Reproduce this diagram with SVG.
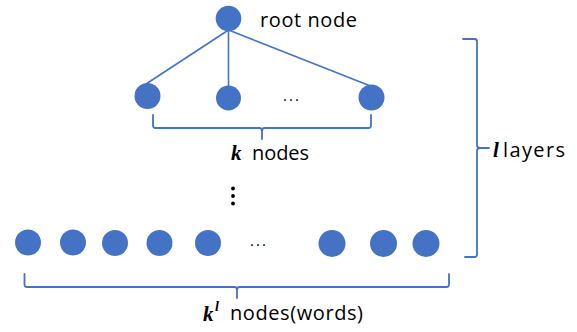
<svg xmlns="http://www.w3.org/2000/svg" width="577" height="332" viewBox="0 0 577 332">
<style>
.n{fill:#4472C4}
.c{stroke:#4472C4;stroke-width:1.6;fill:none}
.b{stroke:#4472C4;stroke-width:1.8;fill:none;stroke-linecap:round;stroke-linejoin:round}
.t{font-family:"Open Sans","Liberation Sans",sans-serif;font-size:20px;fill:#000}
.m{font-family:"Liberation Serif",serif;font-style:italic;font-weight:bold;font-size:21px;fill:#000}
.d{font-family:"Open Sans","Liberation Sans",sans-serif;font-size:15px;fill:#000}
</style>
<rect width="577" height="332" fill="#fff"/>
<g id="connectors">
<line class="c" x1="228.5" y1="30" x2="146" y2="84"/>
<line class="c" x1="228.5" y1="30" x2="228.5" y2="88"/>
<line class="c" x1="228.5" y1="30" x2="373" y2="87"/>
</g>
<g id="root"><circle class="n" cx="228.5" cy="18.5" r="12.8"/><text class="t" x="260" y="27" textLength="97" lengthAdjust="spacing">root node</text></g>
<g id="l1a"><circle class="n" cx="147.5" cy="96" r="13"/></g>
<g id="l1b"><circle class="n" cx="228.5" cy="98" r="12.5"/></g>
<g id="l1dots"><text class="d" x="283" y="101" textLength="16" lengthAdjust="spacing">...</text></g>
<g id="l1c"><circle class="n" cx="371.5" cy="97.5" r="13"/></g>
<g id="brace1"><path class="b" d="M153,115 V125.5 Q153,128 155.5,128 H259.5 Q262,128 262,131 V139 M262,131 Q262,128 264.5,128 H368.5 Q371,128 371,125.5 V115"/>
<text class="m" x="231" y="160">k</text><text class="t" x="252" y="160" textLength="57" lengthAdjust="spacing">nodes</text></g>
<g id="vdots"><circle cx="233" cy="188.5" r="1.9" fill="#000"/><circle cx="233" cy="196" r="1.9" fill="#000"/><circle cx="233" cy="203.5" r="1.9" fill="#000"/></g>
<g id="leaves">
<circle class="n" cx="28" cy="242.5" r="13"/>
<circle class="n" cx="73" cy="242.5" r="13"/>
<circle class="n" cx="115" cy="243" r="13"/>
<circle class="n" cx="159.5" cy="243" r="13"/>
<circle class="n" cx="208" cy="243" r="13"/>
<text class="d" x="250" y="246" textLength="16" lengthAdjust="spacing">...</text>
<circle class="n" cx="332" cy="243.5" r="13.5"/>
<circle class="n" cx="383.5" cy="243.5" r="13.5"/>
<circle class="n" cx="426" cy="243.5" r="13.5"/>
</g>
<g id="brace2"><path class="b" d="M24.5,274 V284.5 Q24.5,287 27,287 H234.5 Q237,287 237,290 V298 M237,290 Q237,287 239.5,287 H446.5 Q449,287 449,284.5 V274"/>
<text class="m" x="203" y="321">k</text><text class="m" x="215" y="311" style="font-size:14px">l</text><text class="t" x="230" y="320" textLength="133" lengthAdjust="spacing">nodes(words)</text></g>
<g id="brace3"><path class="b" d="M463,39 H474.5 Q477,39 477,41.5 V145 Q477,148 480,148 H489 M480,148 Q477,148 477,151 V254.5 Q477,257 474.5,257 H465"/>
<text class="m" x="493" y="157">l</text><text class="t" x="503" y="157" textLength="62" lengthAdjust="spacing">layers</text></g>
</svg>
